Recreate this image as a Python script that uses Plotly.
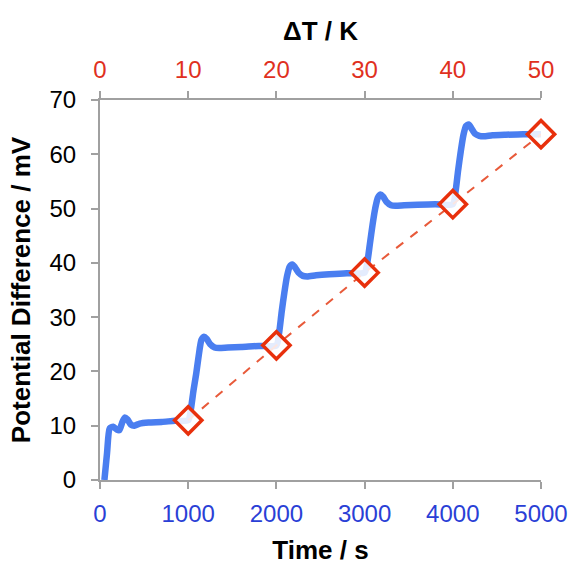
import plotly.graph_objects as go

# Blue time-series: potential difference vs time
time_s = [50, 80, 110, 150, 190, 220, 250, 280, 310, 350, 390, 450, 550, 700, 850, 1000,
          1030, 1060, 1090, 1120, 1150, 1180, 1210, 1250, 1300, 1350, 1450, 1600, 1800, 2000,
          2030, 2060, 2090, 2120, 2150, 2180, 2210, 2250, 2300, 2350, 2450, 2600, 2800, 3000,
          3030, 3060, 3090, 3120, 3150, 3180, 3210, 3250, 3300, 3350, 3450, 3600, 3800, 4000,
          4030, 4060, 4090, 4120, 4150, 4180, 4210, 4250, 4300, 4350, 4450, 4600, 4800, 5000]
potential_mv = [0, 5, 9.5, 9.8, 9.3, 9.2, 10.5, 11.5, 11.2, 10.2, 10.0, 10.4, 10.6, 10.7, 10.9, 11.0,
                13, 16.5, 19.5, 23, 25.8, 26.4, 26, 25, 24.4, 24.3, 24.4, 24.5, 24.7, 24.8,
                27, 31, 34.5, 37.5, 39.3, 39.7, 39.2, 38.2, 37.6, 37.5, 37.7, 37.9, 38.1, 38.2,
                40, 43.5, 47, 50, 52, 52.6, 52.2, 51.2, 50.6, 50.5, 50.6, 50.7, 50.8, 50.8,
                53, 57, 60.5, 63.5, 65.2, 65.5, 64.8, 63.8, 63.4, 63.3, 63.5, 63.6, 63.7, 63.7]

# Red diamonds: steady-state potential vs temperature difference
delta_t_k = [10, 20, 30, 40, 50]
steady_mv = [11.0, 24.8, 38.2, 50.8, 63.7]

time_ticks = [0, 1000, 2000, 3000, 4000, 5000]
dt_ticks = [0, 10, 20, 30, 40, 50]
mv_ticks = [0, 10, 20, 30, 40, 50, 60, 70]

FONT = "Arial, Liberation Sans, Helvetica, sans-serif"
BLUE = "#4a7ef0"
RED = "#e8300c"
AXIS = "#a0a0a0"
TICK_SIZE = 24
TITLE_SIZE = 26

fig = go.Figure()
fig.add_trace(go.Scatter(
    x=time_s, y=potential_mv, mode="lines",
    line=dict(color=BLUE, width=6.5, shape="spline", smoothing=0.6),
    xaxis="x", yaxis="y", showlegend=False, cliponaxis=False))
fig.add_trace(go.Scatter(
    x=delta_t_k, y=steady_mv, mode="lines+markers",
    line=dict(color="#e85a3a", width=2, dash="dash"),
    marker=dict(symbol="diamond", size=21, color="rgba(255,255,255,0.85)",
                line=dict(color=RED, width=3.5)),
    xaxis="x2", yaxis="y", showlegend=False, cliponaxis=False))

common = dict(showgrid=False, zeroline=False, showline=True, linecolor=AXIS, linewidth=2,
              ticks="outside", ticklen=7, tickwidth=2, tickcolor=AXIS, automargin=False,
              ticklabeloverflow="allow")

fig.update_layout(
    width=572, height=565,
    margin=dict(l=100, r=31, t=100, b=85),
    paper_bgcolor="white", plot_bgcolor="white",
    font=dict(family=FONT, size=TICK_SIZE, color="black"),
    xaxis=dict(range=[0, 5000], tickvals=time_ticks, ticklabelstandoff=4,
               tickfont=dict(color="#2a3fd6", size=TICK_SIZE, family=FONT),
               title=dict(text="<b>Time / s</b>", font=dict(size=TITLE_SIZE, family=FONT), standoff=41),
               **common),
    xaxis2=dict(range=[0, 50], tickvals=dt_ticks, overlaying="x", side="top", ticklabelstandoff=3,
                tickfont=dict(color="#e0301e", size=TICK_SIZE, family=FONT),
                title=dict(text="<b>ΔT / K</b>", font=dict(size=TITLE_SIZE, family=FONT), standoff=8),
                **common),
    yaxis=dict(range=[0, 70], tickvals=mv_ticks, ticklabelstandoff=10,
               tickfont=dict(color="black", size=TICK_SIZE, family=FONT),
               title=dict(text="<b>Potential Difference / mV</b>", font=dict(size=TITLE_SIZE, family=FONT),
                          standoff=11),
               **common),
)

# remove the default 8px page margin so the 572x565 figure fills the window exactly
fig.write_html("out.html",
               config={"displayModeBar": False},
               post_script="document.body.style.margin='0';document.body.style.overflow='hidden';")
